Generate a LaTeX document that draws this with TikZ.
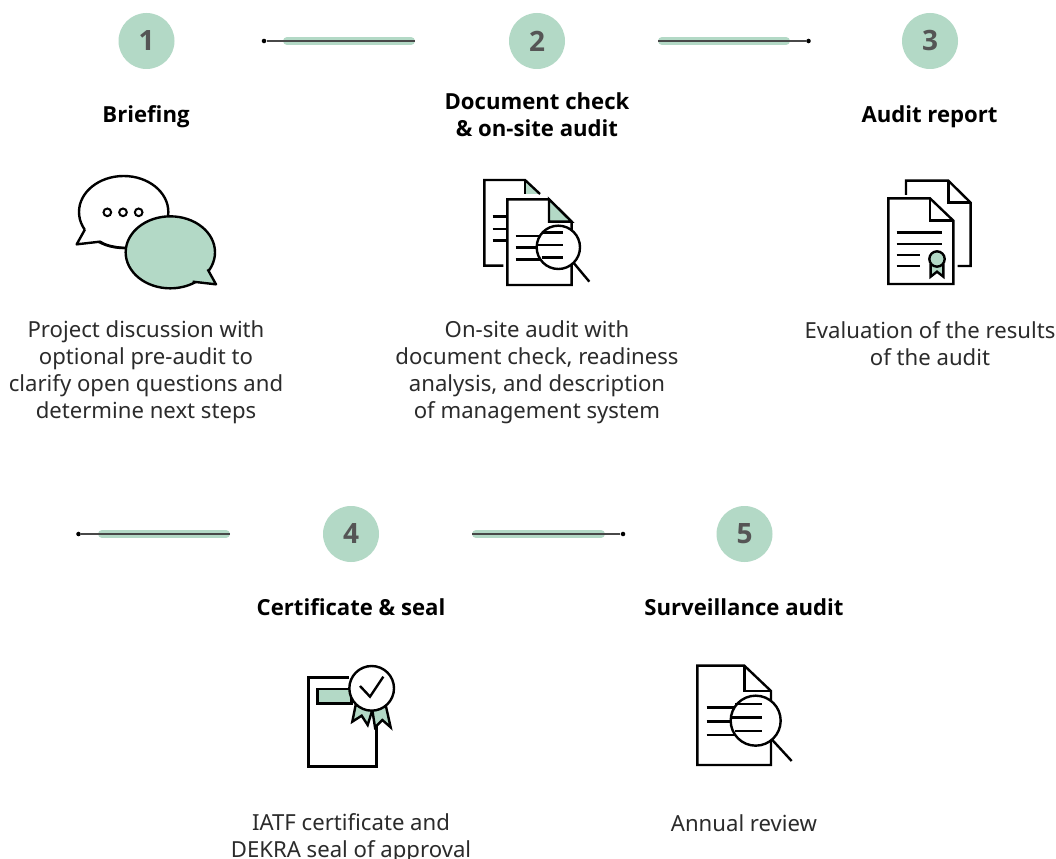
\documentclass[tikz,border=0pt]{standalone}
\usepackage{fontspec}
\setmainfont{Noto Sans}
\newfontfamily\headfont{Open Sans}
\definecolor{mint}{HTML}{B3D9C6}
\definecolor{numgray}{HTML}{555555}
\definecolor{bodygray}{HTML}{2B2B2B}
\tikzset{
  stepnum/.style={circle,fill=mint,minimum size=42pt,inner sep=0pt,font=\headfont\fontsize{21}{24}\selectfont\bfseries,text=numgray},
  heading/.style={align=center,inner sep=0pt,font=\headfont\fontsize{16.6}{20.25}\selectfont\bfseries,text=black},
  bodytext/.style={align=center,inner sep=0pt,font=\fontsize{16.6}{20.25}\selectfont,text=bodygray},
  band/.style={draw=mint,line width=6pt,line cap=round},
  thinline/.style={draw=numgray!85!black,line width=1pt},
  enddot/.style={circle,fill=black,inner sep=0pt,minimum size=3.4pt},
  icon/.style={draw=black,line width=1.8pt,line join=miter,line cap=butt},
  iconz/.style={x=0.25pt,y=-0.25pt}
}
\begin{document}
\begin{tikzpicture}[x=0.75pt,y=-0.75pt]
\useasboundingbox[fill=white] (0,0) rectangle (1056,859);

% number circles
\node[stepnum] (n1) at (146.5,41) {1};
\node[stepnum] (n2) at (537,41) {2};
\node[stepnum] (n3) at (930,41) {3};
\node[stepnum] (n4) at (351,534) {4};
\node[stepnum] (n5) at (744.5,534) {5};

% connectors
\node[enddot] (d1) at (264,41) {};
\coordinate (e1) at (415,41);
\coordinate (b1) at (287,41);
\coordinate (c1) at (411,41);
\draw[band] (b1) -- (c1);
\draw[thinline] (d1) -- (e1);

\node[enddot] (d2) at (808.5,41) {};
\coordinate (e2) at (658,41);
\coordinate (b2) at (662,41);
\coordinate (c2) at (786,41);
\draw[band] (b2) -- (c2);
\draw[thinline] (d2) -- (e2);

\node[enddot] (d3) at (78.5,534) {};
\coordinate (e3) at (230,534);
\coordinate (b3) at (102,534);
\coordinate (c3) at (226,534);
\draw[band] (b3) -- (c3);
\draw[thinline] (d3) -- (e3);

\node[enddot] (d4) at (623,534) {};
\coordinate (e4) at (472,534);
\coordinate (b4) at (476,534);
\coordinate (c4) at (601,534);
\draw[band] (b4) -- (c4);
\draw[thinline] (d4) -- (e4);

% headings
\node[heading] (h1) at (146,116.5) {Briefing};
\node[heading] (h2) at (537,114.5) {Document check\\\& on-site audit};
\node[heading] (h3) at (929.5,116.5) {Audit report};
\node[heading] (h4) at (351,607) {Certificate \& seal};
\node[heading] (h5) at (744,607) {Surveillance audit};

% body
\node[bodytext] (t1) at (146,372) {Project discussion with\\optional pre-audit to\\clarify open questions and\\determine next steps};
\node[bodytext] (t2) at (537,372) {On-site audit with\\document check, readiness\\analysis, and description\\of management system};
\node[bodytext] (t3) at (930,344) {Evaluation of the results\\of the audit};
\node[bodytext] (t4) at (351,838) {IATF certificate and\\DEKRA seal of approval};
\node[bodytext] (t5) at (744,823) {Annual review};

% icon 1: speech bubbles
\begin{scope}[shift={(60,160)},iconz]
  \draw[icon] (191,156) ellipse [x radius=134,y radius=108];
  \fill[white] (191,156) -- (75,208) -- (50,253) -- (120,245) -- (150,258) -- cycle;
  \draw[icon,line join=round] (75,208) -- (50,253) -- (120,245) .. controls (135,255) and (160,262) .. (195,264);
  \draw[icon,fill=mint] (331,277) ellipse [x radius=134,y radius=108];
  \fill[mint] (331,277) -- (443,328) -- (468,373) -- (398,365) -- (370,375) -- cycle;
  \draw[icon,line join=round] (443,328) -- (468,373) -- (398,365);
  \foreach \cx in {142,189,236}
    \draw[black,line width=1.5pt] (\cx,157) circle [radius=11.5];
\end{scope}

% icon 2: documents with lens
\begin{scope}[shift={(470,170)},iconz]
  \fill[mint] (165,30) -- (210,72) -- (165,72) -- cycle;
  \draw[icon] (100,287) -- (43,287) -- (43,30) -- (165,30) -- (210,72);
  \draw[icon] (165,30) -- (165,72);
  \foreach \ly in {140,177,212}
    \draw[icon] (68,\ly) -- (112,\ly);
  \draw[icon,fill=white] (112,88) -- (237,88) -- (305,155) -- (305,345) -- (112,345) -- cycle;
  \draw[icon,fill=mint] (237,88) -- (237,155) -- (305,155) -- cycle;
  \foreach \ly in {198,233,268}
    \draw[icon] (137,\ly) -- (210,\ly);
  \draw[icon,fill=white] (265,232) circle [radius=65];
  \foreach \ly/\lx in {187/215,225/200,262/215}
    \draw[icon] (\lx,\ly) -- (280,\ly);
  \draw[icon] (312,280) -- (358,335);
\end{scope}

% icon 3: certificate documents
\begin{scope}[shift={(875,170)},iconz]
  \draw[icon] (93,75) -- (93,32) -- (220,32) -- (287,98) -- (287,288) -- (248,288);
  \draw[icon] (220,32) -- (220,98) -- (287,98);
  \draw[icon,fill=white] (40,85) -- (165,85) -- (235,152) -- (235,342) -- (40,342) -- cycle;
  \draw[icon] (165,85) -- (165,152) -- (235,152);
  \draw[icon] (65,187) -- (200,187);
  \draw[icon] (65,222) -- (200,222);
  \draw[icon] (65,255) -- (135,255);
  \draw[icon] (65,288) -- (135,288);
  \draw[icon,fill=mint] (167,285) -- (167,320) -- (186,305) -- (205,320) -- (205,285) -- cycle;
  \draw[icon,fill=mint] (186,267) circle [radius=23];
\end{scope}

% icon 4: certificate and seal
\begin{scope}[shift={(295,650)},iconz]
  \draw[icon,fill=white] (162,82) -- (40,82) -- (40,350) -- (245,350) -- (245,195);
  \draw[icon,fill=mint] (68,117) -- (170,117) -- (170,160) -- (68,160) -- cycle;
  \draw[icon,fill=mint] (182,165) -- (172,215) -- (200,197) -- (218,225) -- (232,180) -- cycle;
  \draw[icon,fill=mint] (232,180) -- (240,232) -- (262,210) -- (287,232) -- (272,165) -- cycle;
  \draw[icon,fill=white] (230,115) circle [radius=67];
  \draw[icon] (195,108) -- (225,140) -- (265,80);
\end{scope}

% icon 5: document with lens
\begin{scope}[shift={(685,655)},iconz]
  \draw[icon,fill=white] (37,32) -- (178,32) -- (258,108) -- (258,330) -- (37,330) -- cycle;
  \draw[icon] (178,32) -- (178,108) -- (258,108);
  \foreach \ly in {158,200,240}
    \draw[icon] (65,\ly) -- (150,\ly);
  \draw[icon,fill=white] (212,197) circle [radius=75];
  \foreach \ly/\lx in {147/150,187/137,228/150}
    \draw[icon] (\lx,\ly) -- (230,\ly);
  \draw[icon] (262,255) -- (320,318);
\end{scope}
\end{tikzpicture}
\end{document}
